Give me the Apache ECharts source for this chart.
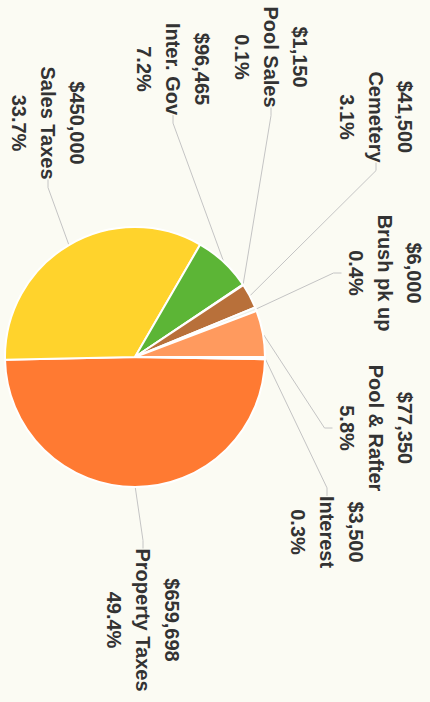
<!DOCTYPE html>
<html>
<head>
<meta charset="utf-8">
<script src="https://cdn.jsdelivr.net/npm/echarts@6/dist/echarts.min.js"></script>
<style>
  html, body { margin: 0; padding: 0; background: #fbfbf3; }
  #wrap { position: relative; width: 430px; height: 702px; overflow: hidden; }
  /* the chart is drawn landscape and turned a quarter turn, like the scan */
  #chart {
    position: absolute; left: 0; top: 0;
    width: 702px; height: 430px;
    transform-origin: 0 0;
    transform: translate(430px, 0) rotate(90deg);
  }
</style>
</head>
<body>
<div id="wrap"><div id="chart"></div></div>
<script>
// revenue sources
const categories = ['Property Taxes', 'Sales Taxes', 'Inter. Gov', 'Pool Sales', 'Cemetery', 'Brush pk up', 'Pool & Rafter', 'Interest'];
const amounts = [659698, 450000, 96465, 1150, 41500, 6000, 77350, 3500];

// slice colours
const sliceColors = ['#ff7a32', '#ffd32c', '#5cb536', '#eef2ea', '#b8703a', '#eef2ea', '#ff9a5e', '#f3eee6'];

// label centres in the unrotated chart frame
const labelSpots = [[620, 287], [123, 382], [69, 257], [57, 159], [117, 54], [273, 45], [428, 54], [532, 103]];

function money(v) {
  return '$' + v.toLocaleString('en-US');
}

const chart = echarts.init(document.getElementById('chart'), null, { renderer: 'svg' });

chart.setOption({
  backgroundColor: 'transparent',
  animation: false,
  series: [
    {
      type: 'pie',
      center: [357, 295],
      radius: 130,
      startAngle: 89,
      clockwise: true,
      percentPrecision: 1,
      data: categories.map((name, i) => ({
        name: name,
        value: amounts[i],
        itemStyle: { color: sliceColors[i] }
      })),
      itemStyle: {
        borderColor: '#ffffff',
        borderWidth: 2
      },
      label: {
        show: true,
        position: 'outside',
        formatter: p => money(p.value) + '\n' + p.name + '\n' + p.percent.toFixed(1) + '%',
        fontFamily: '"Liberation Sans", Arial, sans-serif',
        fontWeight: 'bold',
        fontSize: 20,
        lineHeight: 29,
        color: '#333333'
      },
      labelLine: {
        show: true,
        length: 10,
        length2: 8,
        lineStyle: { color: '#c4c4c4', width: 1 }
      },
      labelLayout: params => {
        const s = labelSpots[params.dataIndex];
        return { x: s[0], y: s[1], align: 'center', verticalAlign: 'middle' };
      }
    }
  ]
});
</script>
</body>
</html>
